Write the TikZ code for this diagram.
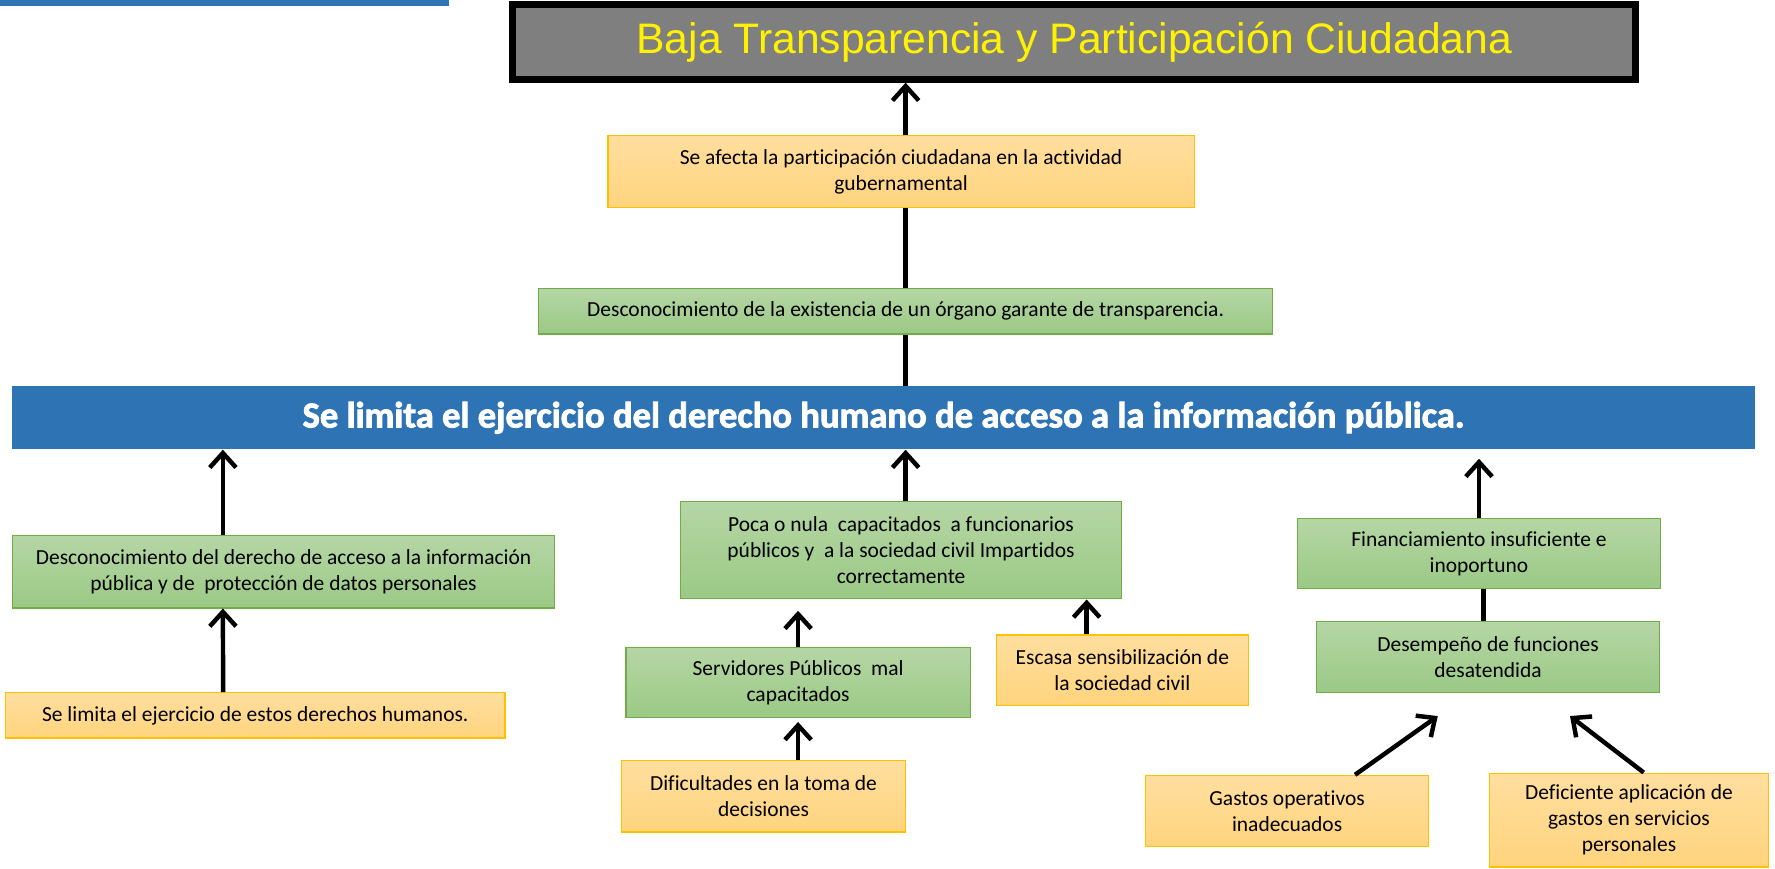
\documentclass[tikz,border=0pt]{standalone}
\usepackage{fontspec}
\setmainfont{Carlito}[Ligatures=NoCommon]
\newfontfamily\arialf{Liberation Sans}
\newfontfamily\heavyf{Carlito}[Ligatures=NoCommon, BoldFeatures={FakeBold=2.2}]
\usepackage{tikz}
\usetikzlibrary{calc,arrows.meta}
\definecolor{barblue}{HTML}{2E74B5}
\definecolor{gtop}{HTML}{B5D6A5}
\definecolor{gbot}{HTML}{9BC985}
\definecolor{gline}{HTML}{70AD47}
\definecolor{otop}{HTML}{FFDE9E}
\definecolor{obot}{HTML}{FFD47E}
\definecolor{oline}{HTML}{FFC000}
\definecolor{ttlgray}{HTML}{7F7F7F}

\begin{document}
\begin{tikzpicture}
[>={Straight Barb[length=3.2mm,width=5.8mm]},
 gbox/.style={draw=gline, line width=0.8pt, top color=gtop, bottom color=gbot, align=center, inner sep=0pt, font=\fontsize{13.5}{16.4}\selectfont},
 obox/.style={draw=oline, line width=0.8pt, top color=otop, bottom color=obot, align=center, inner sep=0pt, font=\fontsize{13.5}{16.4}\selectfont},
 arr/.style={draw, ->, line width=2.8pt},
 ln/.style={draw, line width=2.8pt}]
    \useasboundingbox (0,0) rectangle (39.2,-19.175);
    \fill[barblue] (0,0) rectangle (9.925,-0.125);
    \node[draw=black, line width=4.4pt, fill=ttlgray, minimum width=24.8cm, minimum height=1.65cm, font=\arialf\fontsize{26.8}{30}\selectfont, text=yellow] (T) at (23.725,-0.925) {Baja Transparencia y Participación Ciudadana};
    \node[obox, minimum width=12.95cm, minimum height=1.575cm] (A) at (19.9,-3.7875) {Se afecta la participación ciudadana en la actividad\\gubernamental};
    \node[gbox, minimum width=16.2cm, minimum height=1.0cm] (E) at (20.0,-6.875) {Desconocimiento de la existencia de un órgano garante de transparencia.};
    \node[fill=barblue, minimum width=38.475cm, minimum height=1.4cm, text=white, font=\heavyf\bfseries\fontsize{23}{26}\selectfont] (B) at (19.5125,-9.225) {Se limita el ejercicio del derecho humano de acceso a la información pública.};
    \node[gbox, minimum width=11.975cm, minimum height=1.6cm] (D) at (6.2625,-12.625) {Desconocimiento del derecho de acceso a la información\\pública y de\ \ protección de datos personales};
    \node[obox, minimum width=11.025cm, minimum height=1.0cm] (L) at (5.6375,-15.8) {Se limita el ejercicio de estos derechos humanos.};
    \node[gbox, minimum width=9.75cm, minimum height=2.15cm] (P) at (19.9,-12.15) {Poca o nula\ \ capacitados\ \ a funcionarios\\públicos y\ \ a la sociedad civil Impartidos\\correctamente};
    \node[gbox, minimum width=7.6cm, minimum height=1.55cm] (S) at (17.625,-15.075) {Servidores Públicos\ \ mal\\capacitados};
    \node[obox, minimum width=6.275cm, minimum height=1.575cm] (Di) at (16.8625,-17.5875) {Dificultades en la toma de\\decisiones};
    \node[obox, minimum width=5.575cm, minimum height=1.55cm] (Es) at (24.7875,-14.8) {Escasa sensibilización de\\la sociedad civil};
    \node[gbox, minimum width=8.025cm, minimum height=1.55cm] (F) at (32.6625,-12.225) {Financiamiento insuficiente e\\inoportuno};
    \node[gbox, minimum width=7.575cm, minimum height=1.575cm] (De) at (32.8625,-14.5125) {Desempeño de funciones\\desatendida};
    \node[obox, minimum width=6.25cm, minimum height=1.575cm] (G) at (28.425,-17.9125) {Gastos operativos\\inadecuados};
    \node[obox, minimum width=6.15cm, minimum height=2.075cm] (Dp) at (35.975,-18.1125) {Deficiente aplicación de\\gastos en servicios\\personales};
    % upper chain
    \path[arr] ($(A.north)+(0.1,0)$) -- ($(A.north |- T.south)+(0.1,0)$);
    \path[ln] (E.north) -- (E.north |- A.south);
    \path[ln] (E.south |- B.north) -- (E.south);
    % left branch
    \path[arr] ($(L.north)+(-0.71,0)$) -- ($(D.south)+(-1.34,0)$);
    \path[arr] ($(D.north)+(-1.34,0)$) -- ($(D.north |- B.south)+(-1.34,0)$);
    % middle branch
    \path[arr] ($(P.north)+(0.1,0)$) -- ($(P.north |- B.south)+(0.1,0)$);
    \path[arr] (S.north) -- ($(S.north |- P.south)+(0,-0.25)$);
    \path[arr] (S.south |- Di.north) -- ($(S.south)+(0,-0.08)$);
    \path[arr] ($(Es.north)+(-0.79,0)$) -- ($(Es.north |- P.south)+(-0.79,0)$);
    % right branch
    \path[arr] (F.north) -- ($(F.north |- B.south)+(0,-0.2)$);
    \path[ln] ($(De.north)+(-0.1,0)$) -- ($(De.north |- F.south)+(-0.1,0)$);
    \path[arr] ($(G.north)+(1.5,0)$) -- ($(De.south)+(-1.11,-0.5)$);
    \path[arr] ($(Dp.north)+(0.325,0)$) -- ($(De.south)+(1.81,-0.5)$);
\end{tikzpicture}
\end{document}
